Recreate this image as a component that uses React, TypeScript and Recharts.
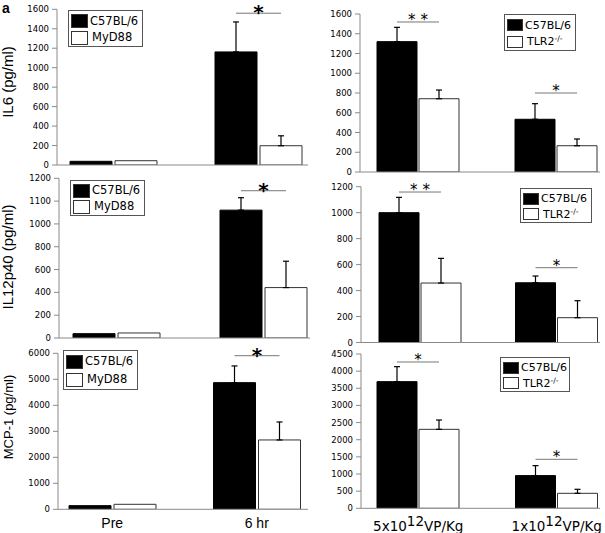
import React from 'react';
import { BarChart, Bar, XAxis, YAxis, ErrorBar, Legend, LabelList, Label } from 'recharts';

// ---------------- data ----------------
const timeCategories = ['Pre', '6 hr'];
const doseCategories = ['5x10^12^VP/Kg', '1x10^12^VP/Kg'];

// IL6, C57BL/6 vs MyD88
const il6MydWt = [38, 1162];
const il6MydKo = [44, 198];
const il6MydWtErr = [0, 308];
const il6MydKoErr = [0, 102];
const il6MydSig = [null, 1560];
const il6MydStars = ['', '*'];
const il6MydTicks = [0, 200, 400, 600, 800, 1000, 1200, 1400, 1600];

// IL6, C57BL/6 vs TLR2-/-
const il6TlrWt = [1320, 534];
const il6TlrKo = [742, 266];
const il6TlrWtErr = [145, 158];
const il6TlrKoErr = [88, 68];
const il6TlrSig = [1519, 800];
const il6TlrStars = ['* *', '*'];
const il6TlrTicks = [0, 200, 400, 600, 800, 1000, 1200, 1400, 1600];

// IL12p40, C57BL/6 vs MyD88 (axis units; labels as printed)
const il12MydWt = [38, 1121];
const il12MydKo = [44, 442];
const il12MydWtErr = [0, 109];
const il12MydKoErr = [0, 231];
const il12MydSig = [null, 1291];
const il12MydStars = ['', '*'];
const il12MydTicks = [0, 200, 400, 600, 800, 1000, 1200, 1400];
const il12MydTickLabels = ['0', '200', '400', '600', '800', '1000', '1100', '1200'];

// IL12p40, C57BL/6 vs TLR2-/-
const il12TlrWt = [1000, 460];
const il12TlrKo = [458, 191];
const il12TlrWtErr = [118, 52];
const il12TlrKoErr = [190, 131];
const il12TlrSig = [1159, 576];
const il12TlrStars = ['* *', '*'];
const il12TlrTicks = [0, 200, 400, 600, 800, 1000, 1200];

// MCP-1, C57BL/6 vs MyD88
const mcpMydWt = [141, 4872];
const mcpMydKo = [192, 2667];
const mcpMydWtErr = [0, 641];
const mcpMydKoErr = [0, 692];
const mcpMydSig = [null, 5908];
const mcpMydStars = ['', '*'];
const mcpMydTicks = [0, 1000, 2000, 3000, 4000, 5000, 6000];

// MCP-1, C57BL/6 vs TLR2-/-
const mcpTlrWt = [3694, 953];
const mcpTlrKo = [2303, 437];
const mcpTlrWtErr = [437, 291];
const mcpTlrKoErr = [272, 117];
const mcpTlrSig = [4267, 1429];
const mcpTlrStars = ['*', '*'];
const mcpTlrTicks = [0, 500, 1000, 1500, 2000, 2500, 3000, 3500, 4000, 4500];

const wtLabel = 'C57BL/6';
const mydLabel = 'MyD88';
const tlrLabel = 'TLR2';
const tlrSup = '-/-';

// ---------------- helpers ----------------
const W = 605;
const H = 533;
const AXIS = '#8a8a8a';
const TICK_FONT = 'DejaVu Sans';

function buildRows(cats: string[], a: number[], b: number[], ea: number[], eb: number[], sig: (number | null)[], stars: string[]) {
  return cats.map((c, i) => ({
    cat: c,
    a: a[i],
    b: b[i],
    ea: ea[i] > 0 ? [0, ea[i]] : null,
    eb: eb[i] > 0 ? [0, eb[i]] : null,
    sig: sig[i],
    star: stars[i],
  }));
}

type Geo = {
  axisX: number; axisEnd: number; topY: number; zeroY: number;
  padL: number; padR: number; barSize: number; gap: number;
  legendX: number; legendY: number; legendW: number; legendH: number;
  yLabel: string; yLabelX: number; yLabelY: number; yLabelSize: number;
  bigStar: boolean; xTicks: 'none' | 'time' | 'dose';
};

const TimeTick = (props: any) => {
  const { x, y, payload } = props;
  return (
    <text x={x} y={y + 11} textAnchor="middle" fontFamily="Liberation Sans" fontSize={14} fill="#000">
      {payload.value}
    </text>
  );
};

const DoseTick = (props: any) => {
  const { x, y, payload } = props;
  const [base, exp, unit] = String(payload.value).split('^');
  return (
    <text x={x} y={y + 15} textAnchor="middle" fontFamily="DejaVu Sans" fontSize={13.5} fill="#000">
      <tspan>{base}</tspan>
      <tspan dy={-5}>{exp}</tspan>
      <tspan dy={5}>{unit}</tspan>
    </text>
  );
};

function LegendBox({ w, h, koLabel, tlr }: { w: number; h: number; koLabel: string; tlr: boolean }) {
  const sq = (fill: string) => (
    <span style={{ display: 'inline-block', width: tlr ? 16 : 17, height: tlr ? 12 : 14, background: fill, border: '1px solid #333', boxSizing: 'border-box', marginRight: 2, flex: 'none' }} />
  );
  const row: React.CSSProperties = { display: 'flex', alignItems: 'center', height: h / 2 - 2 };
  return (
    <div style={{ width: w, height: h, border: '1px solid #555', background: '#fff', boxSizing: 'border-box', padding: '2px 2px', fontFamily: 'DejaVu Sans', fontSize: tlr ? 11 : 11.5, color: '#000', lineHeight: 1 }}>
      <div style={row}>{sq('#000')}<span>{wtLabel}</span></div>
      <div style={row}>{sq('#fff')}<span style={{ marginLeft: 2 }}>{koLabel}{tlr ? <sup style={{ fontSize: 7.5, verticalAlign: 'top', position: 'relative', top: -1 }}>{tlrSup}</sup> : null}</span></div>
    </div>
  );
}

function Panel({ rows, ticks, tickLabels, geo, tlr }: { rows: any[]; ticks: number[]; tickLabels?: string[]; geo: Geo; tlr: boolean }) {
  const yw = 50;
  const xh = 30;
  const margin = { top: geo.topY, left: geo.axisX - yw, right: W - geo.axisEnd, bottom: H - geo.zeroY - xh };
  const maxT = ticks[ticks.length - 1];

  const sigContent = (props: any) => {
    const vb = props.viewBox || props;
    const x = Number(vb.x);
    const y = Number(vb.y);
    const width = Number(vb.width);
    const height = Number(vb.height);
    const row = rows[props.index];
    if (!row || row.sig == null) return null;
    const pxPer = height / row.b;
    const base = y + height;
    const sy = base - row.sig * pxPer;
    const x1 = x - geo.gap - width / 2;
    const x2 = x + width / 2;
    const mid = (x1 + x2) / 2;
    return (
      <g>
        <line x1={x1} x2={x2} y1={sy} y2={sy} stroke="#777" strokeWidth={1} />
        <text x={mid} y={geo.bigStar ? sy + 6 : sy + 3} textAnchor="middle" fontFamily="DejaVu Sans" fontSize={geo.bigStar ? 20 : 15} fontWeight={geo.bigStar ? 'bold' : 'normal'} fill="#000">
          {row.star}
        </text>
      </g>
    );
  };

  const yLabelContent = () => (
    <text
      x={geo.yLabelX}
      y={geo.yLabelY}
      transform={`rotate(-90 ${geo.yLabelX} ${geo.yLabelY})`}
      textAnchor="middle"
      fontFamily="Liberation Sans"
      fontSize={geo.yLabelSize}
      fill="#000"
    >
      {geo.yLabel}
    </text>
  );

  return (
    <div style={{ position: 'absolute', left: 0, top: 0, width: W, height: H }}>
      <BarChart width={W} height={H} data={rows} margin={margin} barGap={geo.gap} style={{ pointerEvents: 'none' }}>
        <XAxis
          dataKey="cat"
          height={xh}
          padding={{ left: geo.padL, right: geo.padR }}
          axisLine={{ stroke: AXIS, strokeWidth: 1 }}
          tickLine={false}
          interval={0}
          tick={geo.xTicks === 'time' ? <TimeTick /> : geo.xTicks === 'dose' ? <DoseTick /> : false}
        />
        <YAxis
          width={yw}
          type="number"
          domain={[0, maxT]}
          ticks={ticks}
          interval={0}
          allowDataOverflow
          axisLine={{ stroke: AXIS, strokeWidth: 1 }}
          tickLine={{ stroke: AXIS }}
          tickSize={5}
          tickMargin={3}
          tick={{ fontFamily: TICK_FONT, fontSize: 8.5, fill: '#000' }}
          tickFormatter={(v: number) => (tickLabels ? tickLabels[ticks.indexOf(v)] : String(v))}
        >
          <Label content={yLabelContent} />
        </YAxis>
        <Legend
          layout="vertical"
          align="center"
          verticalAlign="middle"
          wrapperStyle={{ left: geo.legendX, top: geo.legendY, width: geo.legendW, height: geo.legendH }}
          content={() => <LegendBox w={geo.legendW} h={geo.legendH} koLabel={tlr ? tlrLabel : mydLabel} tlr={tlr} />}
        />
        <Bar dataKey="a" name={wtLabel} fill="#000" stroke="#000" strokeWidth={1} barSize={geo.barSize} isAnimationActive={false}>
          <ErrorBar dataKey="ea" direction="y" width={3} stroke="#000" strokeWidth={1.2} isAnimationActive={false} />
        </Bar>
        <Bar dataKey="b" name={tlr ? tlrLabel : mydLabel} fill="#fff" stroke="#333" strokeWidth={1} barSize={geo.barSize} isAnimationActive={false}>
          <ErrorBar dataKey="eb" direction="y" width={3} stroke="#000" strokeWidth={1.2} isAnimationActive={false} />
          <LabelList dataKey="sig" content={sigContent} />
        </Bar>
      </BarChart>
    </div>
  );
}

// ---------------- layout ----------------
const geoIl6Myd: Geo = { axisX: 57, axisEnd: 308, topY: 9.3, zeroY: 165, padL: -16, padR: -23, barSize: 42, gap: 3, legendX: 68, legendY: 10, legendW: 75, legendH: 37, yLabel: 'IL6 (pg/ml)', yLabelX: 13, yLabelY: 82, yLabelSize: 15, bigStar: true, xTicks: 'none' };
const geoIl6Tlr: Geo = { axisX: 360, axisEnd: 600, topY: 14, zeroY: 172, padL: -11, padR: -25, barSize: 40, gap: 2, legendX: 504, legendY: 14, legendW: 72, legendH: 37, yLabel: '', yLabelX: 0, yLabelY: 0, yLabelSize: 1, bigStar: false, xTicks: 'none' };
const geoIl12Myd: Geo = { axisX: 59, axisEnd: 310, topY: 178.3, zeroY: 338, padL: -16, padR: -27, barSize: 42, gap: 3, legendX: 70, legendY: 180, legendW: 75, legendH: 36, yLabel: 'IL12p40 (pg/ml)', yLabelX: 13, yLabelY: 257, yLabelSize: 15, bigStar: true, xTicks: 'none' };
const geoIl12Tlr: Geo = { axisX: 361, axisEnd: 600, topY: 186.7, zeroY: 342.5, padL: -9, padR: -25, barSize: 40, gap: 2, legendX: 520, legendY: 188, legendW: 72, legendH: 35, yLabel: '', yLabelX: 0, yLabelY: 0, yLabelSize: 1, bigStar: false, xTicks: 'none' };
const geoMcpMyd: Geo = { axisX: 58, axisEnd: 308, topY: 353.3, zeroY: 509.3, padL: -18, padR: -21, barSize: 42, gap: 3, legendX: 63, legendY: 350, legendW: 75, legendH: 40, yLabel: 'MCP-1 (pg/ml)', yLabelX: 13, yLabelY: 417, yLabelSize: 13, bigStar: true, xTicks: 'time' };
const geoMcpTlr: Geo = { axisX: 361, axisEnd: 600, topY: 354, zeroY: 508.3, padL: -12, padR: -26, barSize: 40, gap: 2, legendX: 500, legendY: 357, legendW: 70, legendH: 35, yLabel: '', yLabelX: 0, yLabelY: 0, yLabelSize: 1, bigStar: false, xTicks: 'dose' };

export default function App() {
  return (
    <div style={{ position: 'absolute', left: 0, top: 0, width: W, height: H, background: '#fff', overflow: 'hidden' }}>
      <div style={{ position: 'absolute', left: 2, top: 1, fontFamily: 'Liberation Sans', fontWeight: 'bold', fontSize: 14, lineHeight: '14px' }}>a</div>
      <Panel rows={buildRows(timeCategories, il6MydWt, il6MydKo, il6MydWtErr, il6MydKoErr, il6MydSig, il6MydStars)} ticks={il6MydTicks} geo={geoIl6Myd} tlr={false} />
      <Panel rows={buildRows(doseCategories, il6TlrWt, il6TlrKo, il6TlrWtErr, il6TlrKoErr, il6TlrSig, il6TlrStars)} ticks={il6TlrTicks} geo={geoIl6Tlr} tlr={true} />
      <Panel rows={buildRows(timeCategories, il12MydWt, il12MydKo, il12MydWtErr, il12MydKoErr, il12MydSig, il12MydStars)} ticks={il12MydTicks} tickLabels={il12MydTickLabels} geo={geoIl12Myd} tlr={false} />
      <Panel rows={buildRows(doseCategories, il12TlrWt, il12TlrKo, il12TlrWtErr, il12TlrKoErr, il12TlrSig, il12TlrStars)} ticks={il12TlrTicks} geo={geoIl12Tlr} tlr={true} />
      <Panel rows={buildRows(timeCategories, mcpMydWt, mcpMydKo, mcpMydWtErr, mcpMydKoErr, mcpMydSig, mcpMydStars)} ticks={mcpMydTicks} geo={geoMcpMyd} tlr={false} />
      <Panel rows={buildRows(doseCategories, mcpTlrWt, mcpTlrKo, mcpTlrWtErr, mcpTlrKoErr, mcpTlrSig, mcpTlrStars)} ticks={mcpTlrTicks} geo={geoMcpTlr} tlr={true} />
    </div>
  );
}
